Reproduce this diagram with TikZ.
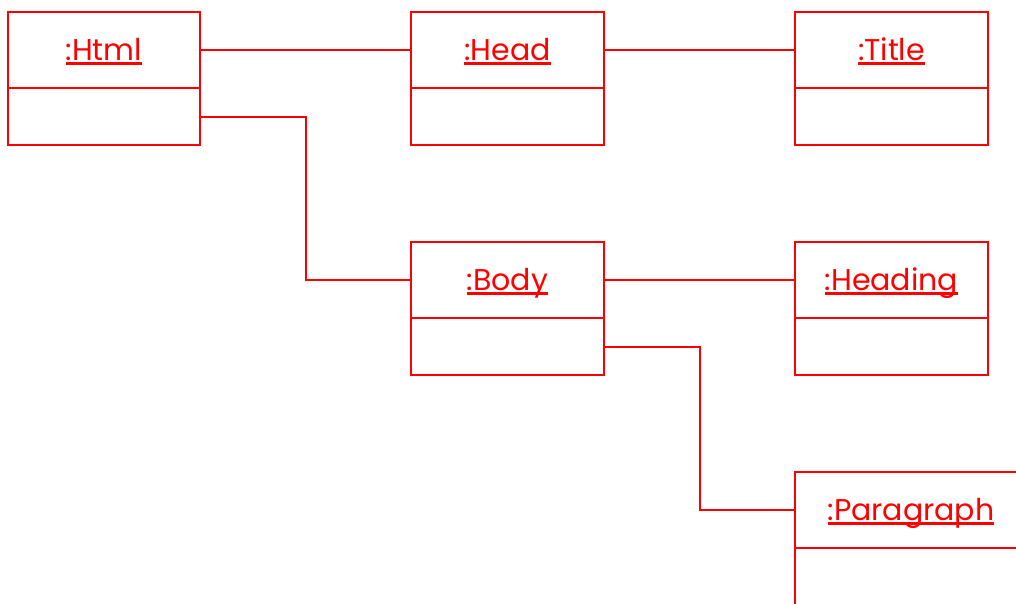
\documentclass[tikz,border=0pt]{standalone}
\usepackage{fontspec}
\setmainfont{Poppins}
\usepackage{tikz}
\usetikzlibrary{positioning,calc}
\definecolor{umlred}{HTML}{FF0000}
\newsavebox\objbox
% underlined object name
\newcommand\objname[1]{\sbox\objbox{#1}\usebox\objbox\llap{\rule[-3.5pt]{\wd\objbox}{1.8pt}}}
\tikzset{
  objhead/.style={draw=umlred,line width=1.5pt,outer sep=0pt,inner sep=0pt,minimum width=144.75pt,minimum height=57pt,text=umlred,font=\fontsize{22.5}{26}\selectfont,text height=20pt,text depth=5pt},
  objslot/.style={draw=umlred,line width=1.5pt,outer sep=0pt,inner sep=0pt,minimum width=144.75pt,minimum height=42.75pt},
  link/.style={draw=umlred,line width=1.5pt},
}

\begin{document}
\begin{tikzpicture}[x=0.75pt,y=-0.75pt]
  \useasboundingbox (0,0) rectangle (1016,603);
  \clip (0,0) rectangle (1016,603);
  % object boxes
  \node[objhead,minimum width=144pt] (html) at (104,50) {\objname{:Html}};
  \node[objslot,minimum width=144pt,below=0pt of html] (htmlslot) {};
  \node[objhead,right=158.25pt of html] (head) {\objname{:Head}};
  \node[objslot,below=0pt of head] (headslot) {};
  \node[objhead,right=143.25pt of head] (title) {\objname{:Title}};
  \node[objslot,below=0pt of title] (titleslot) {};
  \node[objhead,below=72.75pt of headslot] (body) {\objname{:Body}};
  \node[objslot,below=0pt of body] (bodyslot) {};
  \node[objhead,right=143.25pt of body] (heading) {\objname{:Heading}};
  \node[objslot,below=0pt of heading] (headingslot) {};
  \node[objhead,minimum width=174pt,below right=72.75pt and 0pt of headingslot.south west] (paragraph) {\objname{:Paragraph}};
  \node[objslot,minimum width=174pt,minimum height=50pt,below=0pt of paragraph] (paragraphslot) {};
  % links
  \draw[link] (html) -- (head);
  \draw[link] (head) -- (title);
  \draw[link] (htmlslot.east) -| ($(htmlslot.east)!.5!(body.west)$) |- (body.west);
  \draw[link] (body) -- (heading);
  \draw[link] (bodyslot.east) -| ($(bodyslot.east)!.5!(paragraph.west)$) |- (paragraph.west);
\end{tikzpicture}
\end{document}
